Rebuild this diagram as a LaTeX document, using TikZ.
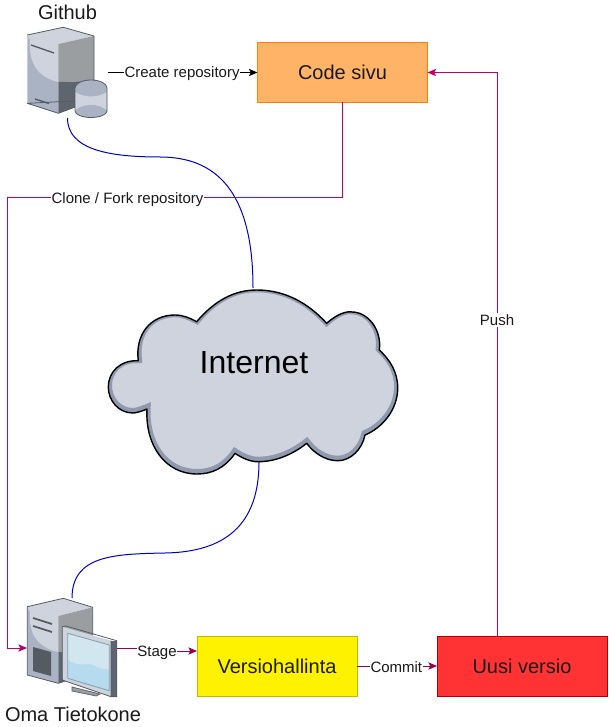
\documentclass[tikz,border=0pt]{standalone}
\usepackage{fontspec}
\setmainfont{Liberation Sans}
\usetikzlibrary{arrows.meta}
\definecolor{pinkline}{HTML}{C40062}
\definecolor{darkpink}{HTML}{99004D}
\definecolor{cloudin}{HTML}{CFD3DD}
\definecolor{cloudrim}{HTML}{8F9AAE}
\definecolor{txt}{HTML}{1A1A1A}
\definecolor{codefill}{HTML}{FFB366}
\definecolor{codeline}{HTML}{FF8000}
\definecolor{verline}{HTML}{BDBD00}
\definecolor{uusifill}{HTML}{FF3333}
\definecolor{uusiline}{HTML}{B20000}
\definecolor{icondark}{HTML}{5E656E}
\definecolor{iconmid}{HTML}{9B9EA1}
\definecolor{iconside}{HTML}{A9B3C4}
\definecolor{iconline}{HTML}{555B63}
\definecolor{screenlight}{HTML}{D2E6F0}
\definecolor{screendeep}{HTML}{B6DBEE}
\newcommand{\cloudpath}{(196.7,321.7) .. controls (215,300) and (235,290) .. (256.7,290) .. controls (285,290) and (308,303) .. (326.7,323.3) .. controls (338,313) and (348,311) .. (352,312) .. controls (368,312) and (382,330) .. (379.3,350) .. controls (390,360) and (397.7,372) .. (397.7,388) .. controls (397.7,410) and (382,428) .. (365,435) .. controls (362,450) and (350,460.7) .. (338,460.7) .. controls (325,461) and (313,452) .. (306.7,443.3) .. controls (292,455) and (275,461.7) .. (258,461.7) .. controls (250,461.7) and (242,458) .. (235,453.3) .. controls (225,468) and (212,474) .. (197,474) .. controls (165,474) and (145,445) .. (147,409) .. controls (140,412) and (135,413) .. (133,413) .. controls (118,413) and (108.3,400) .. (108.3,387) .. controls (108.3,372) and (120,360) .. (138.3,360.7) .. controls (135,335) and (150,315) .. (175,315) .. controls (183,315) and (190,318) .. (196.7,321.7) -- cycle}
\tikzset{
  x=0.75pt,y=-0.75pt,
  every node/.style={font=\fontsize{15}{18}\selectfont,text=txt,inner sep=0pt,outer sep=0pt},
  boxnode/.style={draw,minimum width=120pt,minimum height=45pt,line width=0.6pt},
  edgelabel/.style={fill=white,font=\fontsize{11.25}{13}\selectfont,inner xsep=0.4pt,inner ysep=1pt},
  blueline/.style={draw=blue!80!black,line width=0.75pt},
  pinkedge/.style={draw=pinkline,line width=0.75pt,-{Stealth[length=6.5pt,width=5.5pt,inset=1.5pt]}},
  darkedge/.style={draw=darkpink,line width=0.75pt,-{Stealth[length=6.5pt,width=5.5pt,inset=1.5pt]}},
  blackedge/.style={draw=black,line width=0.75pt,-{Stealth[length=6.5pt,width=5.5pt,inset=1.5pt]}},
  outl/.style={draw=#1,line width=0.6pt,line join=round}
}
\begin{document}
\begin{tikzpicture}
\useasboundingbox (0,0) rectangle (608,727);
\fill[white] (0,0) rectangle (608,727);

% anchor nodes for the icons and cloud
\node[minimum width=60.75pt,minimum height=68.25pt] (gh) at (67.5,72.5) {};
\node[minimum width=67.5pt,minimum height=75pt] (pc) at (72,648) {};
\node[minimum width=217.5pt,minimum height=130.5pt] (cloud) at (253,375) {};

% boxes
\node[boxnode,minimum width=127.5pt,draw=codeline,fill=codefill] (code) at (342.5,72.5) {Code sivu};
\node[boxnode,draw=verline,fill=yellow] (ver) at (277,666) {Versiohallinta};
\node[boxnode,minimum width=127.5pt,draw=uusiline,fill=uusifill] (uusi) at (522,666) {Uusi versio};

% blue curves
\draw[blueline] (gh.south) .. controls +(0,32) and (110,157) .. (160,157) .. controls (215,157) and (253,190) .. (cloud.north);
\draw[blueline] ([xshift=4.5pt]cloud.south) .. controls (259,525) and (225,552) .. (165,553) .. controls (115,554) and (72,555) .. (pc.north);

% github icon
\fill[iconside] (27.3,35) -- (58.3,42) -- (58.3,113.3) -- (27.3,103.3) -- cycle;
\fill[cloudin] (27.3,35) -- (63.3,27.3) -- (94,36) -- (58.3,44) -- (58.3,82) .. controls (40,78) and (28,65) .. (30,40) -- cycle;
\fill[iconmid] (58.3,44) -- (94,36) -- (94,81) -- (58.3,82) -- cycle;
\fill[icondark] (58.3,82) -- (94,81) -- (94,100) -- (58.3,113.3) -- cycle;
\draw[outl=iconline] (27.3,35) -- (63.3,27.3) -- (94,36) -- (94,85) (94,100) -- (58.3,113.3) -- (27.3,103.3) -- cycle;
\draw[line width=1pt,iconline] (31,45) -- (54,53) (35,99) -- (49,103.5);
\fill[iconside] (75,88) arc[start angle=180,end angle=360,x radius=16,y radius=8] -- (107,111) arc[start angle=0,end angle=180,x radius=16,y radius=6.5] -- cycle;
\fill[cloudin] (75,92) .. controls (85,98) and (97,98) .. (107,92) -- (107,110) .. controls (97,103) and (85,103) .. (75,110) -- cycle;
\draw[outl=iconline] (75,88) arc[start angle=180,end angle=360,x radius=16,y radius=8] -- (107,111) arc[start angle=0,end angle=180,x radius=16,y radius=6.5] -- cycle;

% computer icon
\fill[iconside] (27.3,606.7) -- (58.3,615) -- (58.3,683.3) -- (27.3,675) -- cycle;
\fill[cloudin] (27.3,606.7) -- (63.3,598.3) -- (92.7,607.3) -- (58.3,616) -- (58.3,652) .. controls (40,648) and (28,636) .. (30,612) -- cycle;
\fill[iconmid] (58.3,616) -- (92.7,607.3) -- (92.7,652) -- (58.3,652) -- cycle;
\fill[icondark] (58.3,652) -- (92.7,652) -- (92.7,672) -- (58.3,683.3) -- cycle;
\draw[outl=iconline] (27.3,606.7) -- (63.3,598.3) -- (92.7,607.3) -- (92.7,672) -- (58.3,683.3) -- (27.3,675) -- cycle;
\draw[line width=1.3pt,iconline] (33,618) -- (52,624) (33,626) -- (52,632);
\fill[iconline] (33,647) -- (51,652) -- (51,676) -- (33,671) -- cycle;
\fill[iconmid,draw=iconline,line width=0.5pt] (72,687) -- (100,694) -- (96,696) -- (72,691) -- cycle;
\fill[cloudin] (62.3,626.7) -- (111,640.7) -- (111,696.7) -- (62.3,680) -- cycle;
\fill[icondark] (111,640.7) -- (116.7,640.7) -- (116.7,696.7) -- (111,696.7) -- cycle;
\fill[screenlight] (67.7,633.3) -- (109.3,645) -- (109.3,690.7) -- (67.7,678.3) -- cycle;
\fill[screendeep] (67.7,660) .. controls (80,668) and (88,662) .. (93,665) .. controls (100,670) and (105,668) .. (109.3,670) -- (109.3,690.7) -- (67.7,678.3) -- cycle;
\draw[cyan!30!gray,line width=0.6pt] (67.7,633.3) -- (109.3,645) -- (109.3,690.7) -- (67.7,678.3) -- cycle;
\draw[outl=iconline] (62.3,626.7) -- (66,626) -- (116.7,640.7) -- (116.7,696.7) -- (111,696.7) -- (62.3,680) -- cycle (111,640.7) -- (111,696.7);

% cloud
\begin{scope}
\clip \cloudpath;
\fill[cloudrim] (100,280) rectangle (410,480);
\begin{scope}[yshift=1pt]
\fill[cloudin] \cloudpath;
\draw[cloudrim,line width=5.5pt] \cloudpath;
\end{scope}
\end{scope}
\draw[black,line width=1.05pt,line join=round] \cloudpath;
\node[font=\fontsize{24}{28}\selectfont,text=black] (inet) at (254,363) {Internet};

% labels
\node[font=\fontsize{15}{18}\selectfont] (ghl) at (67.5,12) {Github};
\node[font=\fontsize{15}{18}\selectfont] (pcl) at (73,714) {Oma Tietokone};

% connectors
\draw[blackedge] (gh.east) -- (code.west) node[midway,edgelabel,xshift=-0.5pt,yshift=-1pt] {Create repository};
\draw[pinkedge] (code.south) |- (7.5,197.8) |- (pc.west);
\node[edgelabel] (clone) at (127.5,199.5) {Clone / Fork repository};
\draw[pinkedge] ([xshift=-18.75pt]uusi.north) |- (code.east);
\node[edgelabel] (push) at (497,320) {Push};
\draw[darkedge] (pc.east) -- (157,648) -- (157,651) -- ([yshift=11.25pt]ver.west);
\node[edgelabel] (stage) at (157,652.5) {Stage};
\draw[darkedge] (ver.east) -- (uusi.west) node[midway,edgelabel,xshift=-0.5pt,yshift=-0.75pt] {Commit};
\end{tikzpicture}
\end{document}
